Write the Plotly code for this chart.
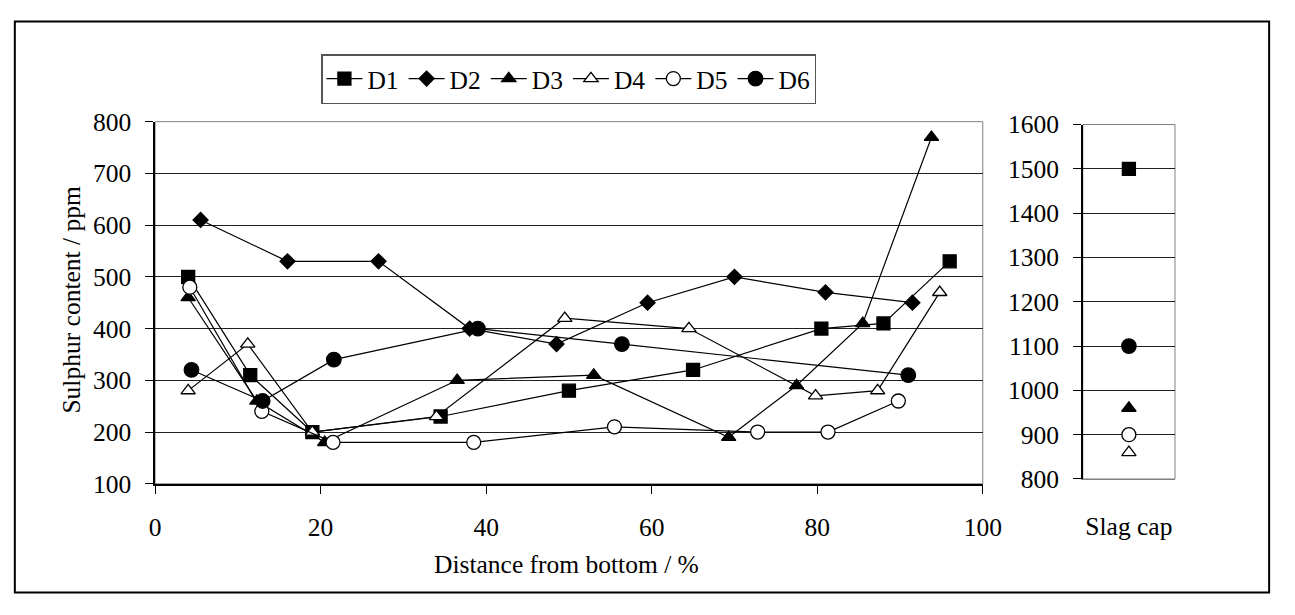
import plotly.graph_objects as go

# ---- data ----
series_names = ["D1", "D2", "D3", "D4", "D5", "D6"]
d1_x = [4, 11.5, 19, 34.5, 50, 65, 80.5, 88, 96]
d1_y = [500, 310, 200, 230, 280, 320, 400, 410, 530]
d2_x = [5.5, 16, 27, 38, 48.5, 59.5, 70, 81, 91.5]
d2_y = [610, 530, 530, 400, 370, 450, 500, 470, 450]
d3_x = [4, 12.3, 20.5, 36.5, 53, 69.3, 77.5, 85.5, 93.8]
d3_y = [460, 260, 180, 300, 310, 190, 290, 410, 770]
d4_x = [4, 11.2, 19, 34, 49.5, 64.5, 79.8, 87.3, 94.8]
d4_y = [280, 370, 200, 230, 420, 400, 270, 280, 470]
d5_x = [4.2, 12.9, 21.5, 38.5, 55.5, 72.8, 81.3, 89.8]
d5_y = [480, 240, 180, 180, 210, 200, 200, 260]
d6_x = [4.4, 13, 21.6, 39, 56.4, 91]
d6_y = [320, 260, 340, 400, 370, 310]
slag_category = ["Slag cap"]
slag_values = {"D1": 1500, "D3": 960, "D4": 860, "D5": 900, "D6": 1100}

xs = [d1_x, d2_x, d3_x, d4_x, d5_x, d6_x]
ys = [d1_y, d2_y, d3_y, d4_y, d5_y, d6_y]

symbols = {"D1": "square", "D2": "diamond", "D3": "triangle-up",
           "D4": "triangle-up", "D5": "circle", "D6": "circle"}
fills = {"D1": "black", "D2": "black", "D3": "black",
         "D4": "white", "D5": "white", "D6": "black"}
sizes = {"D1": 13, "D2": 11.5, "D3": 12.5, "D4": 12.5, "D5": 14, "D6": 14.5}

W, H = 1295, 615
def px(x): return x / W
def py(y): return 1 - y / H

FONT = "Liberation Serif, Times New Roman, serif"
FS = 25.5

fig = go.Figure()
for name, x, y in zip(series_names, xs, ys):
    fig.add_trace(go.Scatter(
        x=x, y=y, mode="lines+markers", name=name, legendgroup=name,
        line=dict(color="black", width=1.2),
        marker=dict(symbol=symbols[name], size=sizes[name], color=fills[name],
                    line=dict(color="black", width=1.3)),
        xaxis="x", yaxis="y"))

for name in series_names:
    if name in slag_values:
        fig.add_trace(go.Scatter(
            x=slag_category, y=[slag_values[name]], mode="markers", name=name,
            legendgroup=name, showlegend=False,
            marker=dict(symbol=symbols[name], size=sizes[name], color=fills[name],
                        line=dict(color="black", width=1.3)),
            xaxis="x2", yaxis="y2"))

axis_common = dict(showline=True, linecolor="black", linewidth=1.5,
                   tickfont=dict(family=FONT, size=FS, color="black"),
                   zeroline=False)

fig.update_layout(
    width=W, height=H,
    margin=dict(l=0, r=0, t=0, b=0),
    paper_bgcolor="white", plot_bgcolor="white",
    font=dict(family=FONT, size=FS, color="black"),
    xaxis=dict(domain=[px(152), px(996)], range=[0, 100], dtick=20,
               ticks="outside", ticklen=8, tickcolor="black",
               showgrid=False, anchor="y", ticklabelstandoff=12, **axis_common),
    yaxis=dict(domain=[py(493), py(113)], range=[100, 800], dtick=100,
               ticks="outside", ticklen=8, tickcolor="black",
               showgrid=True, gridcolor="#202020", gridwidth=1,
               anchor="x", ticklabelstandoff=9, **axis_common),
    xaxis2=dict(domain=[px(1098), px(1192)], type="category",
                ticks="", showgrid=False, anchor="y2",
                ticklabelstandoff=24,
                showline=True, linecolor="#808080", linewidth=1,
                tickfont=dict(family=FONT, size=FS, color="black"),
                zeroline=False),
    yaxis2=dict(domain=[py(488), py(116)], range=[800, 1600], dtick=100,
                ticks="outside", ticklen=8, tickcolor="black",
                showgrid=True, gridcolor="#202020", gridwidth=1,
                anchor="x2", ticklabelstandoff=9, **axis_common),
    legend=dict(orientation="h", x=px(574), xanchor="center",
                y=py(42), yanchor="top",
                bordercolor="#555555", borderwidth=1.5,
                font=dict(family=FONT, size=FS, color="black"),
                bgcolor="white", itemwidth=36, tracegroupgap=0),
    showlegend=True,
)

# plot area borders (gray, Excel style)
fig.add_shape(type="rect", xref="x domain", yref="y domain",
              x0=0, x1=1, y0=0, y1=1, line=dict(color="#808080", width=1),
              layer="below")
fig.add_shape(type="rect", xref="x2 domain", yref="y2 domain",
              x0=0, x1=1, y0=0, y1=1, line=dict(color="#808080", width=1),
              layer="below")
# outer chart border
fig.add_shape(type="rect", xref="paper", yref="paper",
              x0=px(9), x1=px(1288), y0=py(607), y1=py(8),
              line=dict(color="black", width=2))

fig.add_annotation(text="Distance from bottom / %", xref="paper", yref="paper",
                   x=px(572), y=py(578), showarrow=False,
                   font=dict(family=FONT, size=FS, color="black"),
                   xanchor="center", yanchor="middle")
fig.add_annotation(text="Sulphur content / ppm", xref="paper", yref="paper",
                   x=px(67), y=py(300), showarrow=False, textangle=-90,
                   font=dict(family=FONT, size=FS, color="black"),
                   xanchor="center", yanchor="middle")

fig.write_html("out.html",
               post_script="document.body.style.margin='0';"
                           "document.body.style.overflow='hidden';")
